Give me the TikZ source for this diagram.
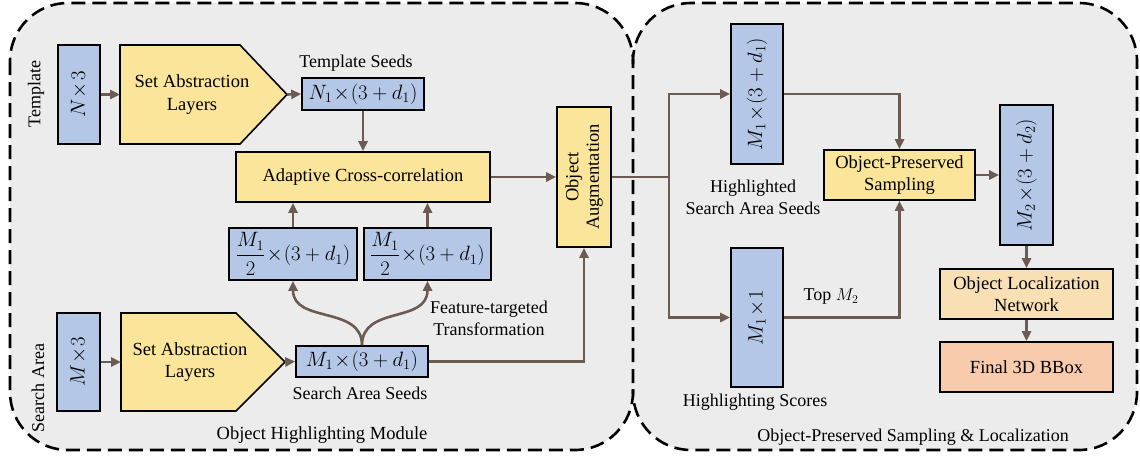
\documentclass[tikz,border=0pt]{standalone}
\usepackage{amsmath}
\usepackage{fontspec}
\setmainfont{Liberation Serif}
\usepackage{graphicx}
\usetikzlibrary{arrows.meta,calc}

\definecolor{boxblue}{HTML}{B4C7E7}
\definecolor{boxyellow}{HTML}{FBE59B}
\definecolor{boxpeach}{HTML}{F8E0B4}
\definecolor{boxsalmon}{HTML}{F8CBAD}
\definecolor{flow}{HTML}{6B5B52}
\definecolor{panelgray}{HTML}{ECECEC}

\begin{document}
\begin{tikzpicture}[x=1pt,y=-1pt,
  font=\fontsize{18.5}{22.5}\selectfont,
  box/.style={draw=black,line width=1.6pt,inner sep=0pt,align=center},
  bluebox/.style={box,fill=boxblue,font=\fontsize{21}{24}\selectfont},
  yellowbox/.style={box,fill=boxyellow},
  outline/.style={draw=black,line width=1.6pt,line join=miter},
  plain/.style={inner sep=0pt,align=center},
  caption/.style={font=\fontsize{18}{22}\selectfont,align=center,inner sep=0pt},
  flowarrow/.style={draw=flow,line width=2.6pt,-{Triangle[length=10pt,width=9pt]}},
  flowline/.style={draw=flow,line width=2.6pt},
  panel/.style={draw=black,line width=2.6pt,dash pattern=on 14pt off 7pt,rounded corners=58pt},
]
\useasboundingbox (0,0) rectangle (1140,456);

% ---------- the two module panels ----------
\fill[panelgray,rounded corners=58pt] (10,3) rectangle (633,450);
\fill[panelgray,rounded corners=58pt] (633,3) rectangle (1137,450);
\draw[panel] (10,3) rectangle (633,450);
\draw[panel] (633,64) -- (633,3) -- (1137,3) -- (1137,450) -- (633,450) -- (633,389);

% ---------- template branch ----------
\node[caption] (tplLabel) at (36,94) {\rotatebox{90}{Template}};
\node[bluebox,minimum width=42pt,minimum height=99pt] (n3) at (79,94.5) {\rotatebox{90}{$N\!\times\!3$}};
\draw[outline,fill=boxyellow] (120,45) -- (240,45) -- (287,94.5) -- (240,144) -- (120,144) -- cycle;
\coordinate (sa1in) at (120,94.5);
\coordinate (sa1out) at (287,94.5);
\node[plain] (sa1) at (192,94.5) {Set Abstraction\\Layers};
\node[caption] (tseedLabel) at (356,63) {Template Seeds};
\node[bluebox,minimum width=122pt,minimum height=32pt] (n1) at (363,94) {$N_1\!\times\!(3+d_1)$};

% ---------- cross-correlation ----------
\node[yellowbox,minimum width=254pt,minimum height=50pt] (acc) at (363,177) {Adaptive Cross-correlation};
\node[bluebox,font=\fontsize{20}{24}\selectfont,minimum width=128pt,minimum height=52pt] (h1) at (293,254) {$\dfrac{M_1}{2}\!\times\!(3+d_1)$};
\node[bluebox,font=\fontsize{20}{24}\selectfont,minimum width=127pt,minimum height=52pt] (h2) at (427.5,254) {$\dfrac{M_1}{2}\!\times\!(3+d_1)$};

% ---------- search area branch ----------
\node[caption] (saLabel) at (38,388) {\rotatebox{90}{Search Area}};
\node[bluebox,minimum width=43pt,minimum height=98pt] (m3) at (78.5,362) {\rotatebox{90}{$M\!\times\!3$}};
\draw[outline,fill=boxyellow] (121,313) -- (236,313) -- (285,362) -- (236,411) -- (121,411) -- cycle;
\coordinate (sa2in) at (121,362);
\coordinate (sa2out) at (285,362);
\node[plain] (sa2) at (190,362) {Set Abstraction\\Layers};
\node[bluebox,minimum width=132pt,minimum height=31pt] (m1) at (362,361.5) {$M_1\!\times\!(3+d_1)$};
\node[caption] (sseedLabel) at (360,393) {Search Area Seeds};
\node[caption] (ftLabel) at (489,318) {Feature-targeted\\Transformation};

\node[yellowbox,minimum width=54pt,minimum height=140pt] (oa) at (584,177)
  {\rotatebox{90}{\begin{tabular}{@{}c@{}}Object\\[-2pt]Augmentation\end{tabular}}};
\node[caption,font=\fontsize{18.5}{22}\selectfont] (ohmLabel) at (322,435) {Object Highlighting Module};

% ---------- sampling and localization ----------
\node[bluebox,minimum width=52pt,minimum height=140pt] (hs) at (757,94) {\rotatebox{90}{$M_1\!\times\!(3+d_1)$}};
\node[caption] (hssLabel) at (753,197) {Highlighted\\Search Area Seeds};
\node[bluebox,minimum width=52pt,minimum height=139pt] (sc) at (757,317.5) {\rotatebox{90}{$M_1\!\times\!1$}};
\node[caption] (hscLabel) at (755,402) {Highlighting Scores};
\node[caption] (topLabel) at (831,297) {Top $M_2$};
\node[yellowbox,minimum width=151pt,minimum height=50pt] (ops) at (899.5,175) {Object-Preserved\\Sampling};
\node[bluebox,minimum width=53pt,minimum height=140pt] (m2) at (1026.5,175) {\rotatebox{90}{$M_2\!\times\!(3+d_2)$}};
\node[box,fill=boxpeach,minimum width=173pt,minimum height=50pt] (ol) at (1026.5,294) {Object Localization\\Network};
\node[box,fill=boxsalmon,minimum width=173pt,minimum height=50pt] (bb) at (1026.5,367) {Final 3D BBox};
\node[caption] (opslLabel) at (913,437) {Object-Preserved Sampling \& Localization};

% ---------- connectors ----------
\draw[flowarrow] (n3.east) -- (sa1in);
\draw[flowarrow] (sa1out) -- (n1.west);
\draw[flowarrow] (n1.south) -- (n1.south |- acc.north);
\draw[flowarrow] (h1.north) -- (h1.north |- acc.south);
\draw[flowarrow] (h2.north) -- (h2.north |- acc.south);
\draw[flowarrow] (acc.east) -- (acc.east -| oa.west);
\draw[flowarrow] (m3.east) -- (sa2in);
\draw[flowarrow] (sa2out) -- (m1.west);
\draw[flowarrow] (m1.north) .. controls +(0,-40) and +(0,43) .. (h1.south);
\draw[flowarrow] (m1.north) .. controls +(0,-40) and +(0,43) .. (h2.south);
\draw[flowarrow] (m1.east) -| (oa.south);
\coordinate (split) at (669,177);
\draw[flowline] (oa.east) -- (split);
\draw[flowarrow] (split) |- (hs.west);
\draw[flowarrow] (split) |- (sc.west);
\draw[flowarrow] (hs.east) -| (ops.north);
\draw[flowarrow] (sc.east) -| (ops.south);
\draw[flowarrow] (ops.east) -- (m2.west);
\draw[flowarrow] (m2.south) -- (ol.north);
\draw[flowarrow] (ol.south) -- (bb.north);
\end{tikzpicture}
\end{document}
